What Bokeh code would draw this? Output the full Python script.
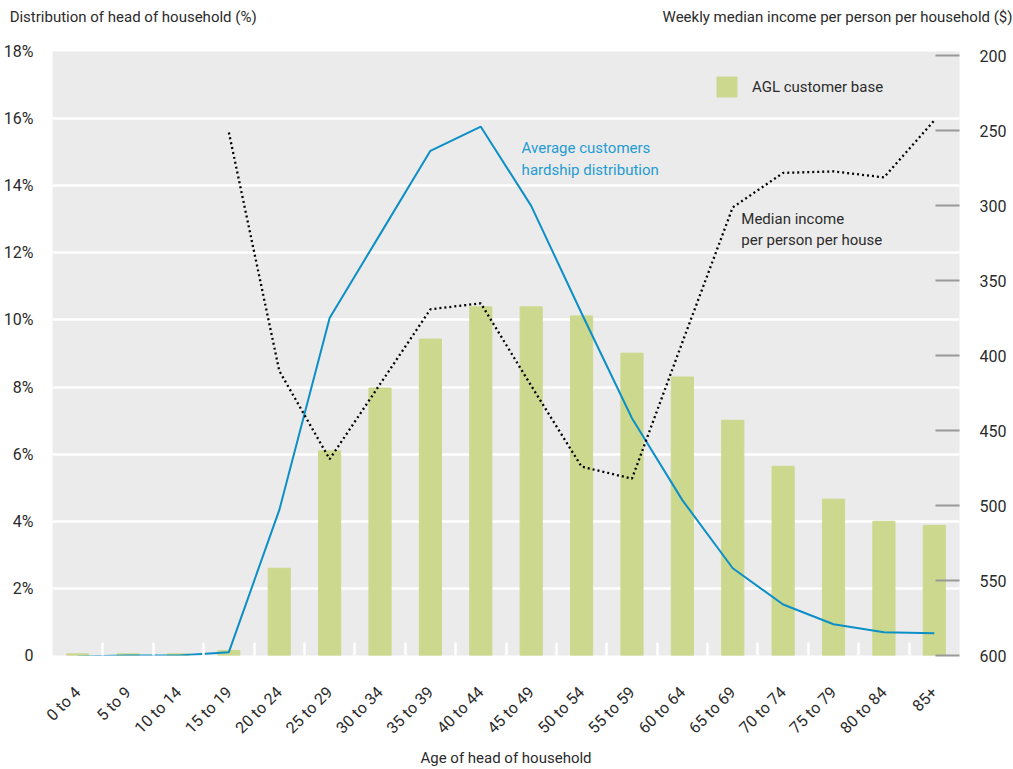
import numpy as np
from bokeh.plotting import figure
from bokeh.models import (Range1d, LinearAxis, FixedTicker, Label, Legend,
                          LegendItem, ColumnDataSource)
from bokeh.embed import file_html
from bokeh.resources import INLINE

categories = ["0 to 4", "5 to 9", "10 to 14", "15 to 19", "20 to 24", "25 to 29",
              "30 to 34", "35 to 39", "40 to 44", "45 to 49", "50 to 54", "55 to 59",
              "60 to 64", "65 to 69", "70 to 74", "75 to 79", "80 to 84", "85+"]
agl_customer_base = [0.05, 0.05, 0.05, 0.15, 2.6, 6.1, 7.97, 9.43, 10.39, 10.39,
                     10.12, 9.01, 8.3, 7.01, 5.64, 4.66, 4.0, 3.88]
hardship_distribution = [-0.03, 0.0, 0.0, 0.1, 4.33, 10.06, 12.55, 15.04, 15.76, 13.4,
                         10.2, 7.07, 4.63, 2.6, 1.52, 0.93, 0.69, 0.66]
median_income = [np.nan, np.nan, np.nan, 251, 410, 469, 419, 369, 365, 420,
                 474, 482, 391, 301, 278, 277, 281, 243]
left_ticks = [0, 2, 4, 6, 8, 10, 12, 14, 16, 18]
left_tick_labels = ["0", "2%", "4%", "6%", "8%", "10%", "12%", "14%", "16%", "18%"]
right_ticks = [200, 250, 300, 350, 400, 450, 500, 550, 600]

left_title = "Distribution of head of household (%)"
right_title = "Weekly median income per person per household ($)"
x_title = "Age of head of household"

FONT = "Roboto"
TXT = "#2b2b2b"

# horizontal centres (in category units) of the two titles written above the frame
TITLE_POS = [1.6, 15.58]

n = len(categories)
xc = [i + 0.5 for i in range(n)]
src = ColumnDataSource(dict(x=xc, cat=categories, agl=agl_customer_base,
                            hard=hardship_distribution, inc=median_income))

p = figure(frame_width=907, frame_height=604, output_backend="svg",
           toolbar_location=None,
           x_range=Range1d(0, n), y_range=Range1d(0, 18),
           min_border_left=45, min_border_right=53, min_border_top=51,
           min_border_bottom=60)
p.background_fill_color = "#ebebeb"
p.border_fill_color = "white"
p.outline_line_color = None
p.extra_y_ranges = {"inc": Range1d(start=600, end=197)}

bars = p.vbar(x="x", top="agl", width=0.44, source=src, color="#cdd88f")
p.line(x="x", y="hard", source=src, color="#0b8fc6", line_width=2)
p.line(x="x", y="inc", source=src, y_range_name="inc", color="black",
       line_width=2.3, line_dash="2 3")

p.xgrid.visible = False
p.ygrid.ticker = FixedTicker(ticks=left_ticks)
p.ygrid.grid_line_color = "white"
p.ygrid.grid_line_width = 2.5

xa = p.xaxis[0]
xa.ticker = FixedTicker(ticks=xc, minor_ticks=list(range(1, n)))
xa.major_label_overrides = {x: c for x, c in zip(xc, categories)}
xa.major_label_orientation = np.pi / 4
xa.major_tick_line_color = None
xa.minor_tick_in = 13
xa.minor_tick_out = 0
xa.minor_tick_line_color = "white"
xa.minor_tick_line_width = 2.5
xa.axis_line_color = None
xa.major_label_standoff = 28
xa.major_label_text_font = FONT
xa.major_label_text_font_size = "16px"
xa.major_label_text_color = TXT
xa.axis_label = x_title
xa.axis_label_text_font = FONT
xa.axis_label_text_font_size = "15px"
xa.axis_label_text_font_style = "normal"
xa.axis_label_text_color = TXT
xa.axis_label_standoff = 2

ya = p.yaxis[0]
ya.ticker = FixedTicker(ticks=left_ticks)
ya.major_label_overrides = {t: l for t, l in zip(left_ticks, left_tick_labels)}
ya.major_tick_line_color = None
ya.minor_tick_line_color = None
ya.axis_line_color = None
ya.major_label_standoff = 13
ya.major_label_text_font = FONT
ya.major_label_text_font_size = "16px"
ya.major_label_text_color = TXT

ra = LinearAxis(y_range_name="inc", ticker=FixedTicker(ticks=right_ticks))
ra.major_tick_in = 24
ra.major_tick_out = 0
ra.major_tick_line_color = "#999999"
ra.major_tick_line_width = 2
ra.minor_tick_line_color = None
ra.axis_line_color = None
ra.major_label_standoff = 20
ra.major_label_text_font = FONT
ra.major_label_text_font_size = "16px"
ra.major_label_text_color = TXT
p.add_layout(ra, "right")

# top axis carrying the two axis titles (left and right scales)
ta = LinearAxis(ticker=FixedTicker(ticks=TITLE_POS))
ta.major_label_overrides = {TITLE_POS[0]: left_title, TITLE_POS[1]: right_title}
ta.major_tick_line_color = None
ta.minor_tick_line_color = None
ta.axis_line_color = None
ta.major_label_standoff = 20
ta.major_label_text_font = FONT
ta.major_label_text_font_size = "15px"
ta.major_label_text_color = TXT
p.add_layout(ta, "above")

legend = Legend(items=[LegendItem(label="AGL customer base", renderers=[bars])],
                location=(662, 556), glyph_width=25, glyph_height=25,
                label_standoff=13, padding=0, margin=0, spacing=0,
                background_fill_alpha=0, border_line_color=None,
                label_text_font=FONT, label_text_font_size="15px",
                label_text_color=TXT)
p.add_layout(legend, "center")

p.add_layout(Label(x=9.31, y=15.13, text="Average customers", text_font=FONT,
                   text_font_size="15px", text_color="#1f9bd2",
                   text_baseline="alphabetic"))
p.add_layout(Label(x=9.31, y=14.47, text="hardship distribution", text_font=FONT,
                   text_font_size="15px", text_color="#1f9bd2",
                   text_baseline="alphabetic"))
p.add_layout(Label(x=13.67, y=13.01, text="Median income", text_font=FONT,
                   text_font_size="15px", text_color=TXT,
                   text_baseline="alphabetic"))
p.add_layout(Label(x=13.67, y=12.38, text="per person per house", text_font=FONT,
                   text_font_size="15px", text_color=TXT,
                   text_baseline="alphabetic"))

open("out.html", "w").write(file_html(p, INLINE))
